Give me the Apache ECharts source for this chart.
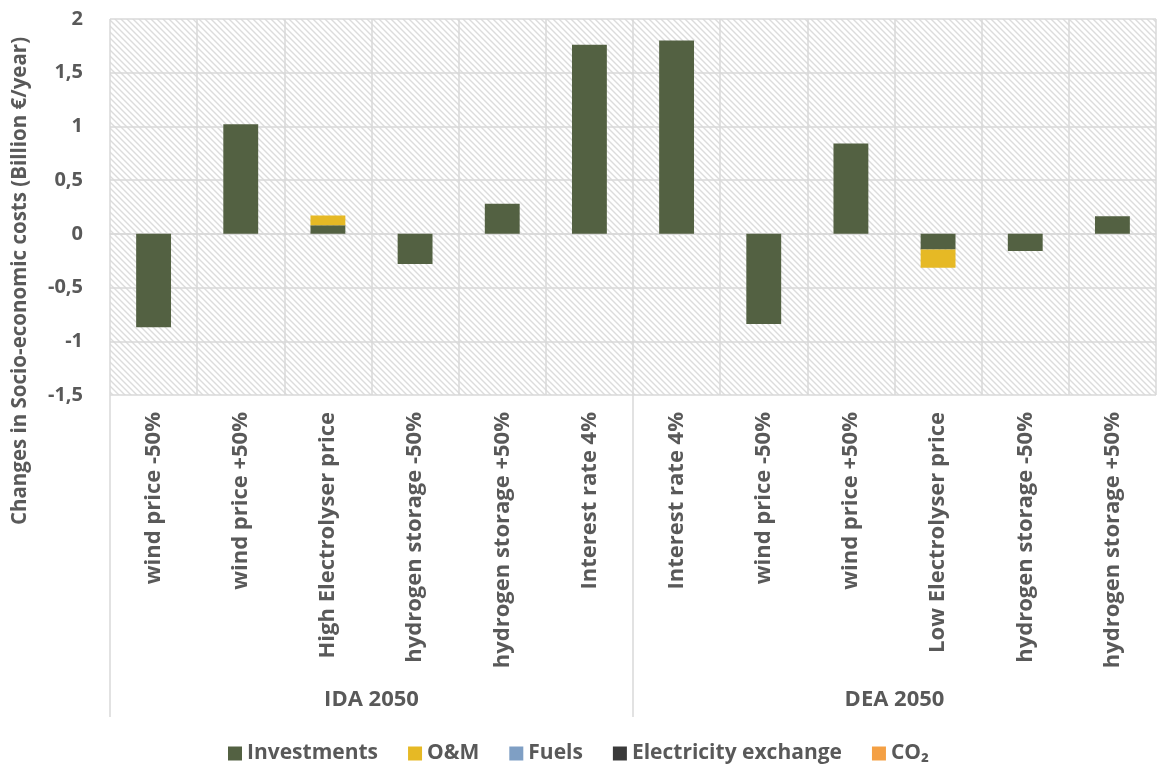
<!DOCTYPE html>
<html>
<head>
<meta charset="utf-8">
<script src="https://cdn.jsdelivr.net/npm/echarts@6/dist/echarts.min.js"></script>
<style>html,body{margin:0;padding:0;background:#fff}#c{width:1157px;height:769px}</style>
</head>
<body>
<div id="c"></div>
<script>
const categories = ['wind price -50%','wind price +50%','High Electrolyser price','hydrogen storage -50%','hydrogen storage +50%','Interest rate 4%','Interest rate 4%','wind price -50%','wind price +50%','Low Electrolyser price','hydrogen storage -50%','hydrogen storage +50%'];
const groupNames = ['IDA 2050','DEA 2050'];
const investments = [-0.87, 1.02, 0.08, -0.28, 0.28, 1.76, 1.80, -0.84, 0.84, -0.145, -0.16, 0.165];
const om = [0, 0, 0.09, 0, 0, 0, 0, 0, 0, -0.17, 0, 0];
const fuels = [0,0,0,0,0,0,0,0,0,0,0,0];
const elecExchange = [0,0,0,0,0,0,0,0,0,0,0,0];
const co2 = [0,0,0,0,0,0,0,0,0,0,0,0];
const yTicks = {min: -1.5, max: 2, interval: 0.5};

const FONT = '"Open Sans"';
const TXT = '#595959';
const GRID = '#d9d9d9';

function hatch() {
  const s = 6;
  const cv = document.createElement('canvas');
  cv.width = s; cv.height = s;
  const g = cv.getContext('2d');
  g.fillStyle = '#ffffff'; g.fillRect(0,0,s,s);
  g.strokeStyle = '#dcdcdc'; g.lineWidth = 1.4;
  g.beginPath();
  g.moveTo(-1,-1); g.lineTo(s+1,s+1);
  g.moveTo(-1,s-1); g.lineTo(1,s+1);
  g.moveTo(s-1,-1); g.lineTo(s+1,1);
  g.stroke();
  return {image: cv, repeat: 'repeat'};
}

const chart = echarts.init(document.getElementById('c'), null, {renderer: 'canvas'});
const mk = (name, data, color) => ({
  name, type: 'bar', stack: 'total', data, barWidth: '40%',
  itemStyle: {color}, emphasis: {disabled: true}
});
chart.setOption({
  animation: false,
  textStyle: {fontFamily: FONT},
  grid: {left: 110, right: 1, top: 19, bottom: 374, show: true, borderWidth: 0, backgroundColor: hatch()},
  legend: {
    top: 738, left: 'center', icon: 'rect', itemWidth: 14, itemHeight: 14, itemGap: 30, itemStyle: {borderWidth: 0},
    textStyle: {fontFamily: FONT, fontWeight: 'bold', fontSize: 21, color: TXT},
    data: ['Investments','O&M','Fuels','Electricity exchange','CO₂']
  },
  xAxis: [
    {
      type: 'category', data: categories, position: 'bottom',
      axisLine: {show: true, lineStyle: {color: GRID, width: 1.5}},
      axisTick: {show: false},
      splitLine: {show: true, interval: 0, lineStyle: {color: GRID, width: 1.5}},
      axisLabel: {interval: 0, rotate: 90, margin: 17, fontFamily: FONT, fontWeight: 'bold', fontSize: 22, color: TXT}
    },
    {
      type: 'value', min: 0, max: categories.length, position: 'bottom', offset: 0,
      axisLine: {show: false},
      splitLine: {show: false},
      axisTick: {show: true, customValues: [0, categories.length / 2], length: 322, lineStyle: {color: GRID, width: 1.5}},
      axisLabel: {
        customValues: [categories.length / 4, categories.length * 3 / 4], margin: 294,
        fontFamily: FONT, fontWeight: 'bold', fontSize: 22, color: TXT,
        formatter: v => groupNames[Math.round((v - categories.length / 4) / (categories.length / 2))]
      }
    }
  ],
  yAxis: {
    type: 'value', min: yTicks.min, max: yTicks.max, interval: yTicks.interval,
    axisLine: {show: false}, axisTick: {show: false},
    splitLine: {show: true, lineStyle: {color: GRID, width: 1.5}},
    axisLabel: {margin: 27, fontFamily: FONT, fontWeight: 'bold', fontSize: 20, color: TXT,
      formatter: v => String(v).replace('.', ',')}
  },
  graphic: [{
    type: 'text', x: 20, y: 281, rotation: Math.PI / 2,
    style: {text: 'Changes in Socio-economic costs (Billion €/year)', fill: TXT,
      font: 'bold 20.5px ' + FONT, textAlign: 'center', textVerticalAlign: 'middle'}
  }],
  series: [
    mk('Investments', investments, '#536142'),
    mk('O&M', om, '#E6B925'),
    mk('Fuels', fuels, '#7F9FC4'),
    mk('Electricity exchange', elecExchange, '#3A3A3A'),
    mk('CO₂', co2, '#F4A044')
  ]
});
</script>
</body>
</html>
